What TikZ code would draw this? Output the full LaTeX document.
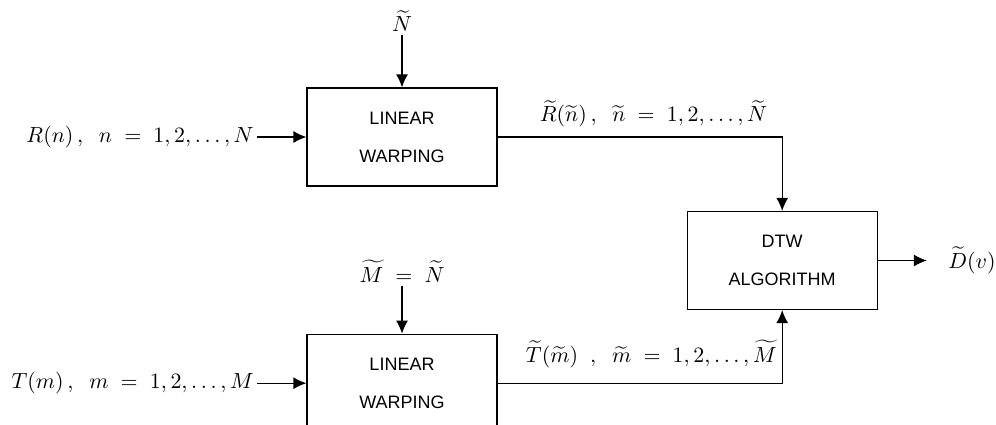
\documentclass[tikz,border=0pt]{standalone}
\usepackage{amsmath}
\usepackage{fontspec}
\newfontfamily\boxfont{Liberation Sans}
\usetikzlibrary{arrows.meta, positioning}

\begin{document}
\begin{tikzpicture}[
  >={Latex[length=6.5pt,width=6pt]}, line width=0.6pt,
  box/.style={draw, minimum width=95pt, minimum height=49pt,
              align=center, font=\boxfont\fontsize{9}{19}\selectfont},
  sig/.style={inner sep=1.5pt, font=\fontsize{11}{13}\selectfont}]
  \clip (0,0) rectangle (498pt,-212pt);
  \node[box] (warpR) at (201pt,-68.5pt) {LINEAR\\WARPING};
  \node[box, below=73.5pt of warpR] (warpT) {LINEAR\\WARPING};
  \node[box, right=94.5pt of warpR, yshift=-61.75pt] (dtw) {DTW\\ALGORITHM};
  \node[sig, left=24.5pt of warpR] (inR) {$R(n)\,,\;\; n \;=\; 1,2,\ldots,N$};
  \node[sig, left=24.5pt of warpT] (inT) {$T(m)\,,\;\; m \;=\; 1,2,\ldots,M$};
  \node[sig, above=26pt of warpR] (nTop) {$\widetilde{N}$};
  \node[sig, above=24pt of warpT] (mTop) {$\widetilde{M} \;=\; \widetilde{N}$};
  \node[sig, right=33.5pt of dtw] (dOut) {$\widetilde{D}(v)$};
  \draw[->] (inR) -- (warpR);
  \draw[->] (nTop) -- (warpR);
  \draw[->] (inT) -- (warpT);
  \draw[->] (mTop) -- (warpT);
  \draw[->] (warpR) -| node[sig, pos=0.274, above=3pt] (outR)
    {$\widetilde{R}(\widetilde{n})\,,\;\; \widetilde{n} \;=\; 1,2,\ldots,\widetilde{N}$} (dtw);
  \draw[->] (warpT) -| node[sig, pos=0.27, above=6pt] (outT)
    {$\widetilde{T}(\widetilde{m})\;\;,\;\; \widetilde{m} \;=\; 1,2,\ldots,\widetilde{M}$} (dtw);
  \draw[->, shorten >=9pt] (dtw) -- (dOut);
\end{tikzpicture}
\end{document}
